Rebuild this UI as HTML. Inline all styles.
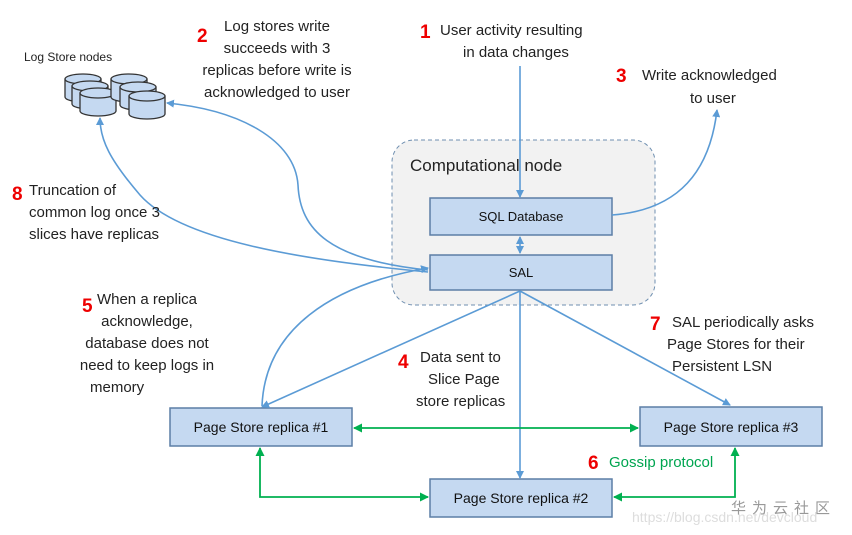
<!DOCTYPE html>
<html><head><meta charset="utf-8"><style>
body{margin:0;width:852px;height:535px;background:#fff;overflow:hidden;font-family:"Liberation Sans","Noto Sans CJK SC",sans-serif}
svg{position:absolute;left:0;top:0}
text{font-family:"Liberation Sans","Noto Sans CJK SC",sans-serif}
</style></head><body>
<svg width="852" height="535" viewBox="0 0 852 535">
<defs>
<marker id="b" markerWidth="8" markerHeight="8" refX="7" refY="4" orient="auto" markerUnits="userSpaceOnUse"><path d="M0,0 L8,4 L0,8 z" fill="#5b9bd5"/></marker>
<marker id="bs" markerWidth="8" markerHeight="8" refX="1" refY="4" orient="auto" markerUnits="userSpaceOnUse"><path d="M8,0 L0,4 L8,8 z" fill="#5b9bd5"/></marker>
<marker id="g" markerWidth="9" markerHeight="9" refX="8" refY="4.5" orient="auto" markerUnits="userSpaceOnUse"><path d="M0,0 L9,4.5 L0,9 z" fill="#00b050"/></marker>
<marker id="gs" markerWidth="9" markerHeight="9" refX="1" refY="4.5" orient="auto" markerUnits="userSpaceOnUse"><path d="M9,0 L0,4.5 L9,9 z" fill="#00b050"/></marker>
<g id="c"><path d="M0,5 v18 a18,5 0 0 0 36,0 v-18"/><ellipse cx="18" cy="5" rx="18" ry="5"/></g>
</defs>
<rect x="392" y="140" width="263" height="165" rx="22" fill="#f2f2f2" stroke="#6f8fb0" stroke-dasharray="4,3"/>
<text x="410" y="171" font-size="17" fill="#222">Computational node</text>
<g fill="#c5d9f1" stroke="#5c7ea6" stroke-width="1.5">
<rect x="430" y="198" width="182" height="37"/>
<rect x="430" y="255" width="182" height="35"/>
<rect x="170" y="408" width="182" height="38"/>
<rect x="640" y="407" width="182" height="39"/>
<rect x="430" y="479" width="182" height="38"/>
</g>
<g font-size="14" fill="#111" text-anchor="middle">
<text x="521" y="221" font-size="13">SQL Database</text>
<text x="521" y="277" font-size="13">SAL</text>
<text x="261" y="432">Page Store replica #1</text>
<text x="731" y="432">Page Store replica #3</text>
<text x="521" y="503">Page Store replica #2</text>
</g>
<!-- cylinders -->
<g fill="#c5d9f1" stroke="#333" stroke-width="1.3">
<use href="#c" x="65" y="74"/><use href="#c" x="72" y="81"/><use href="#c" x="80" y="88"/>
<use href="#c" x="111" y="74"/><use href="#c" x="120" y="82"/><use href="#c" x="129" y="91"/>
</g>
<!-- blue arrows -->
<g stroke="#5b9bd5" stroke-width="1.6" fill="none">
<line x1="520" y1="66" x2="520" y2="197" marker-end="url(#b)"/>
<path d="M612,215 C680,210 710,170 717,110" marker-end="url(#b)"/>
<line x1="520" y1="237" x2="520" y2="253" marker-end="url(#b)" marker-start="url(#bs)"/>
<path d="M428,270 C330,260 300,230 298,185 C295,140 240,110 167,103" marker-end="url(#b)"/>
<path d="M428,272 C300,260 180,240 140,195 C110,160 100,140 100,118" marker-end="url(#b)"/>
<path d="M262,406 C265,330 330,285 428,268" marker-end="url(#b)"/>
<line x1="520" y1="291" x2="262" y2="407" marker-end="url(#b)"/>
<line x1="520" y1="291" x2="520" y2="478" marker-end="url(#b)"/>
<line x1="520" y1="291" x2="730" y2="405" marker-end="url(#b)"/>
</g>
<!-- green -->
<g stroke="#00b050" stroke-width="1.8" fill="none">
<line x1="354" y1="428" x2="638" y2="428" marker-end="url(#g)" marker-start="url(#gs)"/>
<path d="M260,448 V497 H428" marker-end="url(#g)" marker-start="url(#gs)"/>
<path d="M614,497 H735 V448" marker-end="url(#g)" marker-start="url(#gs)"/>
</g>
<!-- labels -->
<g font-size="15" fill="#222">
<text x="24" y="61" font-size="12">Log Store nodes</text>
<text x="420" y="38" font-size="19" font-weight="bold" fill="#e00">1</text>
<text x="440" y="35">User activity resulting</text>
<text x="463" y="57">in data changes</text>
<text x="197" y="42" font-size="19" font-weight="bold" fill="#e00">2</text>
<g text-anchor="middle">
<text x="277" y="31">Log stores write</text>
<text x="277" y="53">succeeds with 3</text>
<text x="277" y="75">replicas before write is</text>
<text x="277" y="97">acknowledged to user</text>
</g>
<text x="616" y="82" font-size="19" font-weight="bold" fill="#e00">3</text>
<text x="642" y="80">Write acknowledged</text>
<text x="690" y="103">to user</text>
<text x="12" y="200" font-size="19" font-weight="bold" fill="#e00">8</text>
<text x="29" y="195">Truncation of</text>
<text x="29" y="217">common log once 3</text>
<text x="29" y="239">slices have replicas</text>
<text x="82" y="312" font-size="19" font-weight="bold" fill="#e00">5</text>
<g text-anchor="middle">
<text x="147" y="304">When a replica</text>
<text x="147" y="326">acknowledge,</text>
<text x="147" y="348">database does not</text>
<text x="147" y="370">need to keep logs in</text>
</g>
<text x="90" y="392">memory</text>
<text x="398" y="368" font-size="19" font-weight="bold" fill="#e00">4</text>
<text x="420" y="362">Data sent to</text>
<text x="428" y="384">Slice Page</text>
<text x="416" y="406">store replicas</text>
<text x="650" y="330" font-size="19" font-weight="bold" fill="#e00">7</text>
<text x="672" y="327">SAL periodically asks</text>
<text x="667" y="349">Page Stores for their</text>
<text x="672" y="371">Persistent LSN</text>
<text x="588" y="469" font-size="19" font-weight="bold" fill="#e00">6</text>
<text x="609" y="467" fill="#00a550">Gossip protocol</text>
<text x="731" y="513" font-size="15" fill="#999" letter-spacing="6">华为云社区</text>
<text x="632" y="522" font-size="14" fill="#ddd">https://blog.csdn.net/devcloud</text>
</g>
</svg>
</body></html>
